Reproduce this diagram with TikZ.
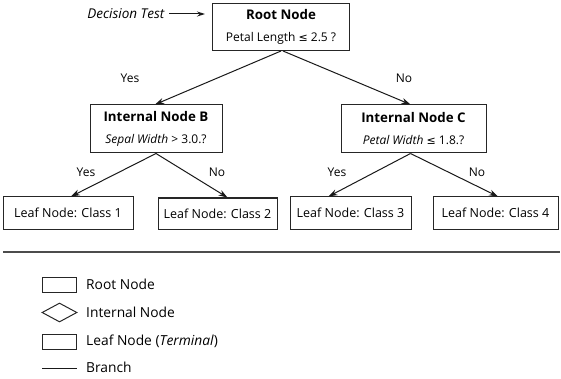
\documentclass[tikz,border=0pt]{standalone}
\usepackage{fontspec}
\setmainfont{Open Sans}
\newfontfamily\symfont{DejaVu Sans}
\usetikzlibrary{arrows.meta,shapes.geometric}
\newcommand{\lesym}{{\symfont\fontsize{11}{13}\selectfont ≤}}
\newcommand{\hd}[1]{{\fontsize{13.3}{22}\selectfont\bfseries #1}}
\begin{document}
\begin{tikzpicture}[x=1pt,y=-1pt,
  every node/.style={text=black},
  box/.style={draw=black!85, line width=1pt, inner sep=0pt, align=center,
    font=\fontsize{12}{22}\selectfont},
  leaf/.style={box, font=\fontsize{12.5}{15}\selectfont},
  conn/.style={draw=black!90, line width=1pt, -{Stealth[length=9pt,width=6pt]}},
  lbl/.style={font=\fontsize{12}{14}\selectfont},
  legtxt/.style={anchor=west, inner sep=0pt, font=\fontsize{13.8}{16}\selectfont}]
\useasboundingbox (0,0) rectangle (561,379);
% tree nodes
\node[box, minimum width=137pt, minimum height=47pt] (root) at (281,27)
  {\hd{Root Node}\\Petal Length \lesym{} 2.5 ?};
\node[box, minimum width=132pt, minimum height=48pt] (B) at (156,129)
  {\hd{Internal Node B}\\\textit{Sepal Width} > 3.0.?};
\node[box, minimum width=145pt, minimum height=48pt] (C) at (413.5,129)
  {\hd{Internal Node C}\\\textit{Petal Width} \lesym{} 1.8.?};
\node[leaf, minimum width=130pt, minimum height=32pt] (L1) at (68,213) {Leaf Node: Class 1};
\node[leaf, minimum width=119pt, minimum height=31pt] (L2) at (217.5,213.5) {Leaf Node: Class 2};
\node[leaf, minimum width=121pt, minimum height=32pt] (L3) at (350.5,213) {Leaf Node: Class 3};
\node[leaf, minimum width=125pt, minimum height=32pt] (L4) at (495.5,213) {Leaf Node: Class 4};
% decision test
\node[anchor=east, inner sep=0pt, font=\fontsize{13.5}{16}\selectfont] (dt) at (165,14) {\textit{Decision Test}};
\coordinate (dtend) at (205,14);
\draw[conn, -{Stealth[length=8pt,width=5pt]}] (dt.east) ++(4,0) -- (dtend);
% branches
\draw[conn] (root.south) -- ([xshift=-1pt]B.north);
\draw[conn] ([xshift=2pt]root.south) -- ([xshift=-3pt]C.north);
\draw[conn] (B.south) -- ([xshift=3pt]L1.north);
\draw[conn] (B.south) -- ([xshift=10pt]L2.north);
\draw[conn] ([xshift=-3pt]C.south) -- ([xshift=-22pt]L3.north);
\draw[conn] ([xshift=-3pt]C.south) -- ([xshift=2.5pt]L4.north);
% branch labels
\node[lbl] (y0) at (130,78) {Yes};
\node[lbl] (n0) at (404,78) {No};
\node[lbl] (y1) at (86,172) {Yes};
\node[lbl] (n1) at (217,172) {No};
\node[lbl] (y2) at (337,172) {Yes};
\node[lbl] (n2) at (477,172) {No};
% separator
\coordinate (s1) at (3,252);
\coordinate (s2) at (560,252);
\draw[black!70, line width=1.3pt] (s1) -- (s2);
% legend
\node[draw=black!85, line width=1pt, minimum width=34pt, minimum height=15pt, inner sep=0pt] (lg1) at (59,284.5) {};
\node[draw=black!85, line width=1pt, diamond, aspect=1.85, minimum width=35pt, minimum height=19pt, inner sep=0pt] (lg2) at (59.5,312.5) {};
\node[draw=black!85, line width=1pt, minimum width=34pt, minimum height=15pt, inner sep=0pt] (lg3) at (59,341.5) {};
\coordinate (lb1) at (42,368);
\coordinate (lb2) at (77,368);
\draw[black!90, line width=1pt] (lb1) -- (lb2);
\node[legtxt] (t1) at (86,284) {Root Node};
\node[legtxt] (t2) at (86,312) {Internal Node};
\node[legtxt] (t3) at (86,341) {Leaf Node (\textit{Terminal})};
\node[legtxt] (t4) at (86,367) {Branch};
\end{tikzpicture}
\end{document}
